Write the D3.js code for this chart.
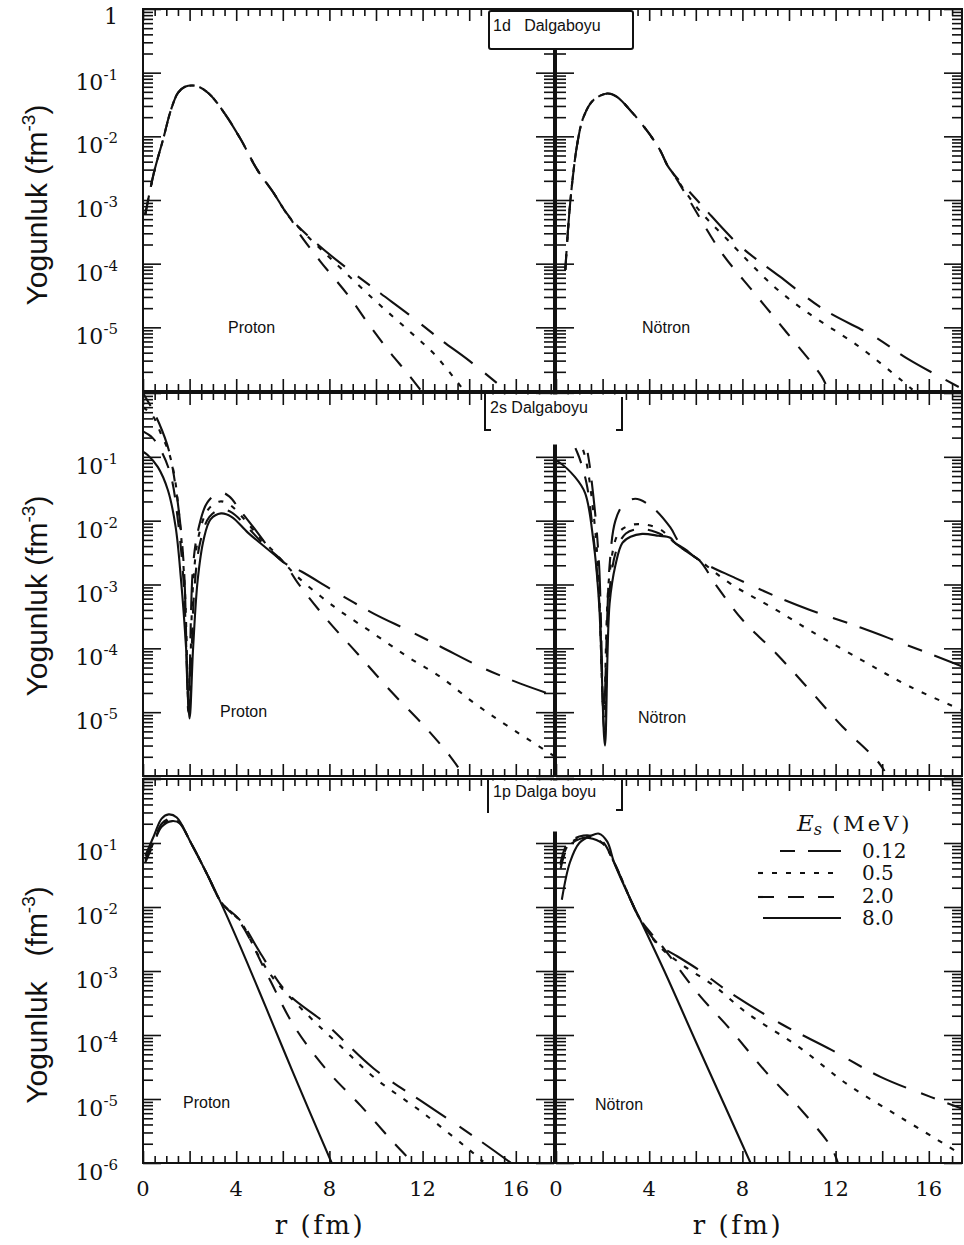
<!DOCTYPE html>
<html><head><meta charset="utf-8">
<script src="https://cdn.jsdelivr.net/npm/d3@7/dist/d3.min.js"></script>
<style>html,body{margin:0;padding:0;background:#fff;}svg{display:block}</style>
</head><body>
<svg id="chart" width="964" height="1245"></svg>
<script>
// ================= DATA =================
const energies = ["0.12", "0.5", "2.0", "8.0"];
const yTickExponents = [0, -1, -2, -3, -4, -5, -6];
const xTickLabels = [0, 4, 8, 12, 16];
const rowTitles = ["1d   Dalgaboyu", "2s Dalgaboyu", "1p Dalga boyu"];

// 1d proton: shared inner part + tails  [r (fm), density (fm^-3)]
const d1p_core = [[0.1,6e-4],[0.47,2.7e-3],[0.86,8.9e-3],[1.2,2.6e-2],[1.5,4.8e-2],[1.8,6.0e-2],[2.27,6.2e-2],[2.8,4.8e-2],[3.5,2.3e-2],[4.2,8.9e-3],[4.9,3.0e-3],[5.6,1.3e-3],[6.05,7.1e-4],[6.35,5.0e-4]];
const d1p_012 = [[7.5,2.0e-4],[8.5,1.0e-4],[10.2,3.4e-5],[11.4,1.6e-5],[12.8,6.3e-6],[13.9,3.2e-6],[15.6,1.0e-6]];
const d1p_05  = [[7.2,2.4e-4],[8.2,1.07e-4],[9.9,2.75e-5],[11.4,8.9e-6],[12.5,3.8e-6],[13.7,1.1e-6]];
const d1p_20  = [[6.65,3.2e-4],[7.6,1.1e-4],[8.8,3.2e-5],[9.7,1.1e-5],[10.5,4.5e-6],[11.4,1.8e-6],[11.9,1.05e-6]];

// 1d neutron
const d1n_core = [[0.4,8e-5],[0.62,1.0e-3],[0.92,7.9e-3],[1.18,2.0e-2],[1.6,3.7e-2],[2.2,4.7e-2],[2.6,4.2e-2],[3.3,2.3e-2],[4.0,1.1e-2],[4.45,6.2e-3],[4.8,3.4e-3],[5.0,2.7e-3]];
const d1n_012 = [[6.3,7.9e-4],[7.9,1.9e-4],[9.6,6.3e-5],[11.5,1.9e-5],[13.65,7.2e-6],[15.1,3.2e-6],[17.3,1.15e-6]];
const d1n_05  = [[6.05,7.6e-4],[7.35,2.4e-4],[9.35,4.4e-5],[10.8,1.7e-5],[13.0,5.0e-6],[14.8,1.5e-6],[15.3,1.05e-6]];
const d1n_20  = [[5.8,8.9e-4],[7.1,1.5e-4],[8.5,3.5e-5],[9.9,8.3e-6],[11.4,1.7e-6],[11.65,1.1e-6]];

// 2s proton
const s2p_012 = [[0,1.0],[0.35,6.0e-1],[0.7,3.3e-1],[1.1,1.3e-1],[1.45,2.5e-2],[1.75,2e-3],[1.95,1e-5],[2.15,2e-3],[2.4,8e-3],[2.75,1.9e-2],[3.3,2.8e-2],[3.7,2.4e-2],[4.2,1.4e-2],[4.85,7e-3],[5.4,3.8e-3],[6.05,2.2e-3],[6.8,1.6e-3],[8.2,7.9e-4],[9.9,3.5e-4],[11.4,1.9e-4],[12.8,1.05e-4],[14.5,5.1e-5],[16.2,2.8e-5],[17.7,1.8e-5]];
const s2p_05  = [[0,6e-1],[0.4,4.5e-1],[0.77,2.3e-1],[1.1,1.2e-1],[1.35,5e-2],[1.6,8e-3],[1.8,8e-4],[1.97,1e-5],[2.15,1e-3],[2.4,6e-3],[2.8,1.5e-2],[3.3,2.0e-2],[3.7,1.8e-2],[4.3,1.1e-2],[5.0,5.5e-3],[5.6,3.3e-3],[6.05,2.2e-3],[6.65,1.3e-3],[8.2,4.5e-4],[9.9,1.7e-4],[11.4,7.2e-5],[12.8,3.5e-5],[14.2,1.4e-5],[15.7,5.9e-6],[17.7,2.0e-6]];
const s2p_20  = [[0,2.5e-1],[0.4,2.0e-1],[0.8,1.2e-1],[1.2,5e-2],[1.5,1e-2],[1.75,1e-3],[1.98,1e-5],[2.2,8e-4],[2.45,4.5e-3],[2.85,1.15e-2],[3.35,1.5e-2],[3.8,1.35e-2],[4.4,8.5e-3],[5.2,4.2e-3],[6.05,2.2e-3],[6.65,1.05e-3],[7.9,2.8e-4],[9.2,8.3e-5],[10.6,2.2e-5],[12.1,5.9e-6],[13.2,2.0e-6],[13.7,1.1e-6]];
const s2p_80  = [[0,1.2e-1],[0.2,1.07e-1],[0.64,6.9e-2],[1.07,3.0e-2],[1.4,8e-3],[1.63,1.2e-3],[1.85,1e-4],[2.0,8e-6],[2.15,1e-4],[2.35,1.2e-3],[2.6,5e-3],[2.9,1.05e-2],[3.35,1.3e-2],[3.8,1.15e-2],[4.5,6.5e-3],[5.3,3.7e-3],[6.05,2.2e-3]];

// 2s neutron
const s2n_012 = [[0,1.5],[0.5,1.0],[0.9,5e-1],[1.3,1.5e-1],[1.6,2.5e-2],[1.85,2e-3],[2.05,1e-5],[2.3,2e-3],[2.55,1e-2],[2.9,1.8e-2],[3.4,2.2e-2],[4.1,1.66e-2],[4.9,7.9e-3],[5.3,4.5e-3],[6.15,2.4e-3],[7.7,1.26e-3],[9.45,6.5e-4],[10.9,4.0e-4],[13.1,2.1e-4],[14.5,1.35e-4],[17.5,5.1e-5]];
const s2n_05  = [[0,7e-1],[0.5,5e-1],[0.85,2.5e-1],[1.25,1e-1],[1.55,2e-2],[1.8,2e-3],[2.05,1e-5],[2.3,1.5e-3],[2.7,6.5e-3],[3.2,8.5e-3],[3.8,8.7e-3],[4.5,7.2e-3],[5.1,4.5e-3],[6.15,2.4e-3],[7.45,1.05e-3],[9.45,4.0e-4],[10.9,1.9e-4],[13.1,6.6e-5],[15.2,2.5e-5],[17.5,1.05e-5]];
const s2n_20  = [[0,3e-1],[0.5,2.2e-1],[0.9,1.2e-1],[1.3,4e-2],[1.6,6e-3],[1.85,6e-4],[2.08,5e-6],[2.3,8e-4],[2.6,3.5e-3],[3.0,6.3e-3],[3.6,7.4e-3],[4.3,6.6e-3],[5.1,4.5e-3],[6.15,2.4e-3],[6.85,1.0e-3],[8.0,2.8e-4],[9.45,8.3e-5],[10.9,2.2e-5],[12.3,5.9e-6],[13.75,1.8e-6],[14.1,1.2e-6]];
const s2n_80  = [[0,8.7e-2],[0.12,8.3e-2],[0.82,4.8e-2],[1.25,2.7e-2],[1.6,5e-3],[1.85,5e-4],[2.1,3e-6],[2.3,5e-4],[2.55,2e-3],[2.85,4.5e-3],[3.2,5.6e-3],[3.7,6.2e-3],[4.4,5.8e-3],[4.9,5.4e-3],[5.1,4.5e-3],[6.15,2.4e-3]];

// 1p proton
const p1p_012 = [[0.1,5e-2],[0.47,1.0e-1],[0.8,1.8e-1],[1.25,2.2e-1],[1.6,2.0e-1],[2.06,1.0e-1],[2.8,3.0e-2],[3.35,1.2e-2],[4.2,6.0e-3],[5.0,2.0e-3],[6.2,4.5e-4],[7.8,1.55e-4],[9.9,3.0e-5],[12.06,8.7e-6],[14.2,2.6e-6],[15.8,1.0e-6]];
const p1p_05  = [[0.1,5.3e-2],[0.47,1.05e-1],[0.8,1.9e-1],[1.2,2.3e-1],[1.55,2.1e-1],[2.06,1.0e-1],[2.8,3.0e-2],[3.35,1.2e-2],[4.2,5.8e-3],[4.9,1.9e-3],[5.6,7.6e-4],[7.1,2.0e-4],[8.5,6.6e-5],[9.9,2.2e-5],[12.06,5.9e-6],[14.2,1.4e-6],[14.6,1.05e-6]];
const p1p_20  = [[0.1,5.6e-2],[0.47,1.1e-1],[0.8,2.0e-1],[1.15,2.4e-1],[1.5,2.2e-1],[2.06,1.0e-1],[2.8,3.0e-2],[3.35,1.2e-2],[4.2,5.5e-3],[5.35,8.5e-4],[6.5,1.35e-4],[7.9,2.8e-5],[9.35,7.8e-6],[10.8,2.0e-6],[11.6,1.0e-6]];
const p1p_80  = [[0.1,6.3e-2],[0.47,1.3e-1],[0.8,2.4e-1],[1.1,2.8e-1],[1.45,2.5e-1],[2.06,1.0e-1],[2.8,3.0e-2],[3.35,1.15e-2],[4.2,2.3e-3],[5.0,4.7e-4],[5.6,1.4e-4],[6.4,2.8e-5],[7.1,7e-6],[8.1,1.0e-6]];

// 1p neutron
const p1n_012 = [[0.2,4e-2],[0.5,8.5e-2],[1.0,1.15e-1],[1.4,1.2e-1],[2.0,9.8e-2],[2.5,4.9e-2],[3.2,1.3e-2],[3.6,6.5e-3],[4.4,2.6e-3],[5.2,1.7e-3],[6.08,1.07e-3],[7.5,4.5e-4],[9.65,1.5e-4],[11.8,5.9e-5],[13.95,2.2e-5],[16.1,1.07e-5],[17.45,7.0e-6]];
const p1n_05  = [[0.2,4.5e-2],[0.5,9e-2],[1.0,1.2e-1],[1.4,1.25e-1],[2.0,1.0e-1],[2.5,4.9e-2],[3.2,1.3e-2],[3.6,6.5e-3],[4.4,2.5e-3],[5.35,1.3e-3],[6.8,5.8e-4],[8.2,2.2e-4],[10.4,6.6e-5],[12.5,1.7e-5],[14.7,5.4e-6],[16.85,1.8e-6],[17.45,1.3e-6]];
const p1n_20  = [[0.2,5e-2],[0.5,1.0e-1],[1.0,1.26e-1],[1.5,1.3e-1],[2.0,1.05e-1],[2.5,4.9e-2],[3.2,1.3e-2],[3.6,6.5e-3],[4.65,2.2e-3],[6.08,4.5e-4],[7.5,1.2e-4],[8.95,2.8e-5],[10.4,7.6e-6],[11.8,1.8e-6],[12.1,1.0e-6]];
const p1n_80  = [[0.25,1.3e-2],[0.6,5e-2],[1.0,1.0e-1],[1.5,1.3e-1],[1.85,1.4e-1],[2.2,1.05e-1],[2.5,4.9e-2],[3.2,1.3e-2],[3.6,6.5e-3],[4.65,1.0e-3],[6.08,6.8e-5],[7.24,7.9e-6],[8.35,1.0e-6]];

// ================= STYLE / LAYOUT =================
const dashStyles = {"0.12": "15,13,36,16", "0.5": "5,9", "2.0": "16,14", "8.0": null};
const INK = "#111";
const rowsY = [[9, 391], [393, 776], [779, 1163]];
const colsX = [[143, 554], [556, 962]];
const pxPerFm = 23.3;

const panels = [
  {row:0, col:0, label:"Proton", lx:228, ly:333, series:[["0.12", d1p_core.concat(d1p_012)], ["0.5", d1p_core.concat(d1p_05)], ["2.0", d1p_core.concat(d1p_20)]]},
  {row:0, col:1, label:"Nötron", lx:642, ly:333, series:[["0.12", d1n_core.concat(d1n_012)], ["0.5", d1n_core.concat(d1n_05)], ["2.0", d1n_core.concat(d1n_20)]]},
  {row:1, col:0, label:"Proton", lx:220, ly:717, series:[["0.12", s2p_012], ["0.5", s2p_05], ["2.0", s2p_20], ["8.0", s2p_80]]},
  {row:1, col:1, label:"Nötron", lx:638, ly:723, series:[["0.12", s2n_012], ["0.5", s2n_05], ["2.0", s2n_20], ["8.0", s2n_80]]},
  {row:2, col:0, label:"Proton", lx:183, ly:1108, series:[["0.12", p1p_012], ["0.5", p1p_05], ["2.0", p1p_20], ["8.0", p1p_80]]},
  {row:2, col:1, label:"Nötron", lx:595, ly:1110, series:[["0.12", p1n_012], ["0.5", p1n_05], ["2.0", p1n_20], ["8.0", p1n_80]]}
];

const svg = d3.select("#chart");
svg.append("rect").attr("width", 964).attr("height", 1245).attr("fill", "#fff");
const defs = svg.append("defs");

function makeScales(p) {
  const [x0, x1] = colsX[p.col];
  const x = d3.scaleLinear().domain([0, (x1 - x0) / pxPerFm]).range([x0, x1]);
  const y = d3.scaleLog().domain([1e-6, 1]).range([rowsY[p.row][1], rowsY[p.row][0]]);
  return {x, y};
}

const yMajor = yTickExponents.map(e => Math.pow(10, e));
const yMinor = [];
for (let e = -6; e < 0; e++) for (let m = 2; m <= 9; m++) yMinor.push(m * Math.pow(10, e));

panels.forEach((p, i) => {
  const {x, y} = makeScales(p);
  const [x0, x1] = x.range();
  const [yb, yt] = y.range();
  const g = svg.append("g");
  const xMax = x.domain()[1];
  const xMajor = d3.range(0, xMax, 2);
  const xMinor = d3.range(0, xMax, 0.5).filter(v => v % 2 !== 0);

  function axisGroup(axis, tx, ty) {
    const a = g.append("g").attr("transform", `translate(${tx},${ty})`).call(axis);
    a.select(".domain").remove();
    a.selectAll("text").remove();
    a.selectAll("line").attr("stroke", INK).attr("stroke-width", 1.6);
  }
  // y ticks (inward)
  axisGroup(d3.axisRight(y).tickValues(yMajor).tickSize(18).tickFormat(""), x0, 0);
  axisGroup(d3.axisRight(y).tickValues(yMinor).tickSize(10).tickFormat(""), x0, 0);
  axisGroup(d3.axisLeft(y).tickValues(yMajor).tickSize(18).tickFormat(""), x1, 0);
  axisGroup(d3.axisLeft(y).tickValues(yMinor).tickSize(10).tickFormat(""), x1, 0);
  // x ticks (inward)
  axisGroup(d3.axisBottom(x).tickValues(xMajor).tickSize(12).tickFormat(""), 0, yt);
  axisGroup(d3.axisBottom(x).tickValues(xMinor).tickSize(7).tickFormat(""), 0, yt);
  axisGroup(d3.axisTop(x).tickValues(xMajor).tickSize(12).tickFormat(""), 0, yb);
  axisGroup(d3.axisTop(x).tickValues(xMinor).tickSize(7).tickFormat(""), 0, yb);

  // frame
  g.append("rect").attr("x", x0).attr("y", yt).attr("width", x1 - x0).attr("height", yb - yt)
    .attr("fill", "none").attr("stroke", INK).attr("stroke-width", 2);

  // curves
  const cid = "clip" + i;
  defs.append("clipPath").attr("id", cid).append("rect")
    .attr("x", x0).attr("y", yt).attr("width", x1 - x0).attr("height", yb - yt);
  const line = d3.line().x(d => x(d[0])).y(d => y(d[1])).curve(d3.curveCatmullRom.alpha(0.5));
  const cg = g.append("g").attr("clip-path", `url(#${cid})`);
  p.series.forEach(([e, data]) => {
    cg.append("path").attr("d", line(data)).attr("fill", "none")
      .attr("stroke", INK).attr("stroke-width", 2.1)
      .attr("stroke-dasharray", dashStyles[e])
      .attr("stroke-linejoin", "round");
  });

  // Proton / Nötron label
  svg.append("text").attr("x", p.lx).attr("y", p.ly).text(p.label)
    .attr("font-family", "Liberation Sans, Arial, sans-serif").attr("font-size", 16).attr("fill", INK);

  // y tick labels on left column
  if (p.col === 0) {
    yTickExponents.forEach(ex => {
      if (ex === 0 && p.row !== 0) return;
      if (ex === -6 && p.row !== 2) return;
      const ty = y(Math.pow(10, ex));
      const t = svg.append("text").attr("x", 118).attr("text-anchor", "end")
        .attr("font-family", "DejaVu Serif, serif").attr("fill", INK);
      if (ex === 0) {
        t.attr("y", ty + 15).attr("font-size", 22).text("1");
      } else {
        t.attr("y", ty + 17).attr("font-size", 22).text("10");
        t.append("tspan").attr("dy", -10).attr("font-size", 15).text(String(ex));
      }
    });
  }

  // x tick labels on bottom row
  if (p.row === 2) {
    xTickLabels.forEach(v => {
      svg.append("text").attr("x", x(v)).attr("y", 1196).attr("text-anchor", "middle")
        .attr("font-family", "DejaVu Serif, serif").attr("font-size", 21).attr("fill", INK).text(v);
    });
    svg.append("text").attr("x", p.col === 0 ? 320 : 738).attr("y", 1234).attr("text-anchor", "middle")
      .attr("font-family", "DejaVu Serif, serif").attr("font-size", 26).attr("letter-spacing", 2.5)
      .attr("fill", INK).text("r (fm)");
  }
});

// ---- title boxes ----
svg.append("rect").attr("x", 489).attr("y", 11).attr("width", 144).attr("height", 38).attr("rx", 2)
  .attr("fill", "#fff").attr("stroke", INK).attr("stroke-width", 2);
svg.append("text").attr("x", 493).attr("y", 31).attr("font-family", "Liberation Sans, Arial, sans-serif")
  .attr("font-size", 16).attr("fill", INK).text(rowTitles[0].replace(/ /g, "\u00a0"));
svg.append("rect").attr("x", 486).attr("y", 394.5).attr("width", 135).attr("height", 50).attr("fill", "#fff");
svg.append("path").attr("d", "M485,393 V430 H491 M622,397 V430 H616").attr("fill", "none")
  .attr("stroke", INK).attr("stroke-width", 2);
svg.append("text").attr("x", 490).attr("y", 413).attr("font-family", "Liberation Sans, Arial, sans-serif")
  .attr("font-size", 16).attr("fill", INK).text(rowTitles[1]);
svg.append("rect").attr("x", 489).attr("y", 780.5).attr("width", 132).attr("height", 51).attr("fill", "#fff");
svg.append("path").attr("d", "M488,778 V813 M622,780 V810 H616").attr("fill", "none")
  .attr("stroke", INK).attr("stroke-width", 2);
svg.append("text").attr("x", 493).attr("y", 797).attr("font-family", "Liberation Sans, Arial, sans-serif")
  .attr("font-size", 16).attr("fill", INK).text(rowTitles[2]);

// ---- y axis titles ----
const yTitleCenters = [205, 596, 995];
yTitleCenters.forEach((cy, r) => {
  const t = svg.append("text").attr("transform", `translate(47,${cy}) rotate(-90)`).attr("text-anchor", "middle")
    .attr("font-family", "Liberation Sans, Arial, sans-serif").attr("font-size", 30).attr("fill", INK);
  t.append("tspan").text(r === 2 ? "Yogunluk\u00a0\u00a0\u00a0(fm" : "Yogunluk (fm");
  t.append("tspan").attr("dy", -12).attr("font-size", 19).text("-3");
  t.append("tspan").attr("dy", 12).text(")");
});

// ---- legend ----
const lg = svg.append("g");
const lt = lg.append("text").attr("x", 797).attr("y", 831).attr("font-family", "DejaVu Serif, serif").attr("fill", INK);
lt.append("tspan").attr("font-style", "italic").attr("font-size", 23).text("E");
lt.append("tspan").attr("font-style", "italic").attr("font-size", 16).attr("dy", 4).text("s");
lt.append("tspan").attr("font-size", 21).attr("dy", -4).attr("dx", 10).attr("letter-spacing", 3).text("(MeV)");
const legendRows = [
  {e:"0.12", ly:851, lx0:780, base:858},
  {e:"0.5",  ly:873, lx0:758, base:880},
  {e:"2.0",  ly:897, lx0:758, base:903},
  {e:"8.0",  ly:918, lx0:763, base:925}
];
legendRows.forEach(r => {
  lg.append("line").attr("x1", r.lx0).attr("x2", 841).attr("y1", r.ly).attr("y2", r.ly)
    .attr("stroke", INK).attr("stroke-width", 2.1).attr("stroke-dasharray", dashStyles[r.e]);
  lg.append("text").attr("x", 862).attr("y", r.base).attr("font-family", "DejaVu Serif, serif")
    .attr("font-size", 20).attr("fill", INK).text(r.e);
});
</script>
</body></html>
